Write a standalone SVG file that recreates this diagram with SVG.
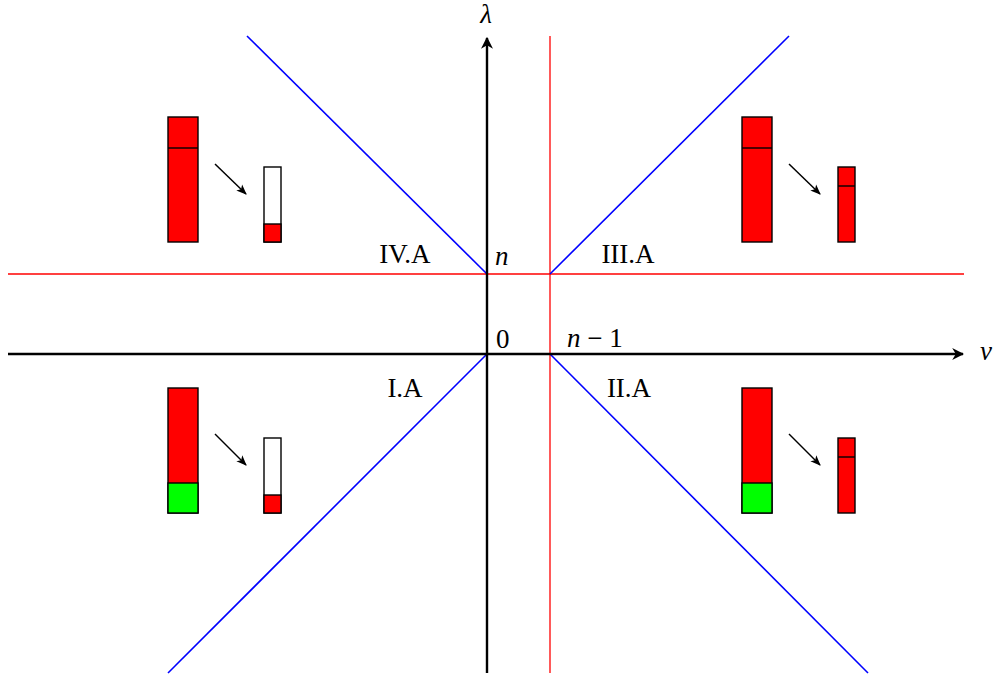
<svg xmlns="http://www.w3.org/2000/svg" width="994" height="677" viewBox="0 0 994 677">
<style>
.ax{stroke:#000;stroke-width:2.4;fill:none}
.rl{stroke:#f00;stroke-width:1.3;fill:none}
.bl{stroke:#00f;stroke-width:1.6;fill:none}
.bar{stroke:#000;stroke-width:1.4}
.ar{stroke:#000;stroke-width:1.5;fill:none}
.t{font-family:"Liberation Serif","DejaVu Serif",serif;font-size:27px;fill:#000}
.m{font-family:"Liberation Serif","DejaVu Serif",serif;font-style:italic;font-size:27px;fill:#000}
</style>
<defs>
<marker id="ah" viewBox="0 0 10 10" refX="9" refY="5" markerWidth="5" markerHeight="5" orient="auto" markerUnits="strokeWidth">
<path d="M0,0 L10,5 L0,10 L3,5 Z" fill="#000"/>
</marker>
<marker id="sa" viewBox="0 0 10 10" refX="9" refY="5" markerWidth="7" markerHeight="7" orient="auto" markerUnits="strokeWidth">
<path d="M0,1 L10,5 L0,9 L2.5,5 Z" fill="#000"/>
</marker>
</defs>
<g id="connectors">
<line class="rl" x1="550" y1="36" x2="550" y2="673"/>
<line class="rl" x1="8" y1="274" x2="964" y2="274"/>
<line class="bl" x1="487" y1="274" x2="247" y2="36"/>
<line class="bl" x1="550" y1="274" x2="789" y2="36"/>
<line class="bl" x1="487" y1="354" x2="168" y2="673"/>
<line class="bl" x1="550" y1="354" x2="868" y2="673"/>
<line class="ax" x1="8" y1="354" x2="963" y2="354" marker-end="url(#ah)"/>
<line class="ax" x1="487" y1="673" x2="487" y2="38" marker-end="url(#ah)"/>
<line class="ar" x1="215" y1="164" x2="246" y2="194" marker-end="url(#sa)"/>
<line class="ar" x1="789" y1="164" x2="820" y2="194" marker-end="url(#sa)"/>
<line class="ar" x1="215" y1="434" x2="246" y2="465" marker-end="url(#sa)"/>
<line class="ar" x1="789" y1="434" x2="820" y2="465" marker-end="url(#sa)"/>
</g>
<g id="bars-IVA">
<rect class="bar" x="168" y="117" width="30" height="125" fill="#f00"/>
<line class="bar" x1="168" y1="148" x2="198" y2="148"/>
<rect class="bar" x="264" y="167" width="17" height="75" fill="#fff"/>
<rect class="bar" x="264" y="224" width="17" height="18" fill="#f00"/>
</g>
<g id="bars-IIIA">
<rect class="bar" x="742" y="117" width="30" height="125" fill="#f00"/>
<line class="bar" x1="742" y1="148" x2="772" y2="148"/>
<rect class="bar" x="838" y="167" width="17" height="75" fill="#f00"/>
<line class="bar" x1="838" y1="186" x2="855" y2="186"/>
</g>
<g id="bars-IA">
<rect class="bar" x="168" y="388" width="30" height="125" fill="#f00"/>
<rect class="bar" x="168" y="483" width="30" height="30" fill="#0f0"/>
<rect class="bar" x="264" y="438" width="17" height="75" fill="#fff"/>
<rect class="bar" x="264" y="495" width="17" height="18" fill="#f00"/>
</g>
<g id="bars-IIA">
<rect class="bar" x="742" y="388" width="30" height="125" fill="#f00"/>
<rect class="bar" x="742" y="483" width="30" height="30" fill="#0f0"/>
<rect class="bar" x="838" y="438" width="17" height="75" fill="#f00"/>
<line class="bar" x1="838" y1="457" x2="855" y2="457"/>
</g>
<g id="labels">
<text class="m" x="486" y="23" text-anchor="middle">λ</text>
<text class="m" x="980" y="360">ν</text>
<text class="m" x="495" y="265">n</text>
<text class="t" x="496" y="348">0</text>
<text class="m" x="567" y="347">n<tspan font-style="normal"> − 1</tspan></text>
<text class="t" x="405" y="263" text-anchor="middle">IV.A</text>
<text class="t" x="628" y="263" text-anchor="middle">III.A</text>
<text class="t" x="405" y="397" text-anchor="middle">I.A</text>
<text class="t" x="629" y="397" text-anchor="middle">II.A</text>
</g>
</svg>
